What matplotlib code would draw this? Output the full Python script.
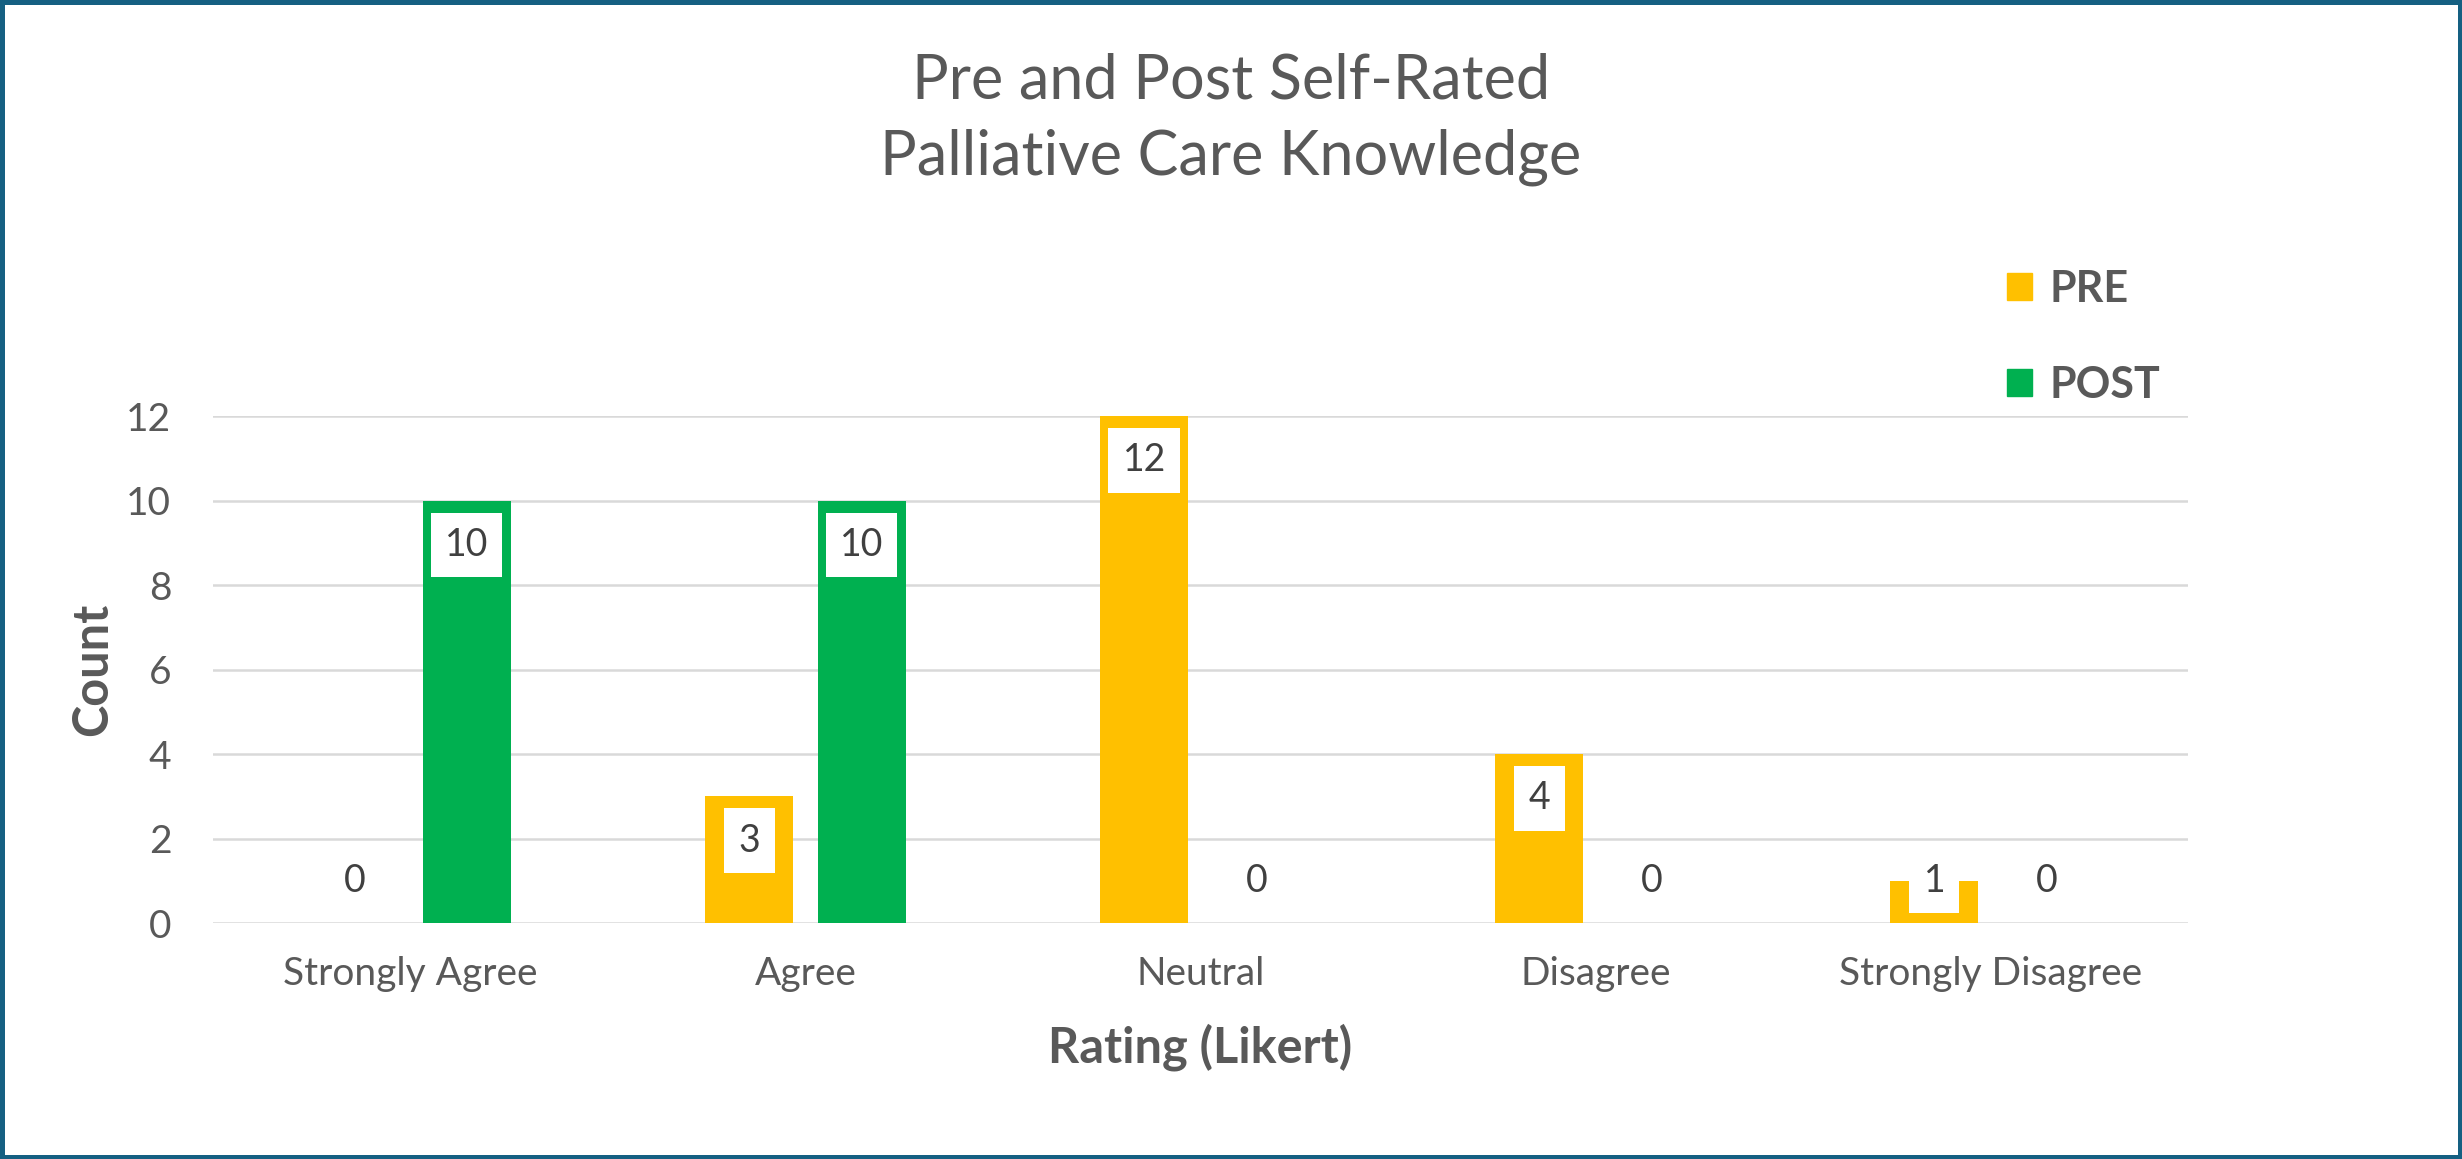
import matplotlib
matplotlib.use("Agg")
import matplotlib.pyplot as plt
import numpy as np
from matplotlib.patches import Patch, Rectangle

# chart data
categories = ["Strongly Agree", "Agree", "Neutral", "Disagree", "Strongly Disagree"]
pre_counts = [0, 3, 12, 4, 1]
post_counts = [10, 10, 0, 0, 0]
series_names = ["PRE", "POST"]
y_ticks = [0, 2, 4, 6, 8, 10, 12]

# colours
PRE_COLOR = "#FFC000"
POST_COLOR = "#00B050"
TEXT_GRAY = "#595959"
LABEL_GRAY = "#404040"
GRID_GRAY = "#D9D9D9"
BORDER_BLUE = "#156082"

plt.rcParams["font.family"] = ["Lato", "DejaVu Sans"]

fig = plt.figure(figsize=(24.62, 11.59), dpi=100)
ax = fig.add_axes([0.0865, 0.2036, 0.8022, 0.4374])

x = np.arange(len(categories))
offset = 0.142
width = 0.223
ax.bar(x - offset, pre_counts, width, color=PRE_COLOR, zorder=2)
ax.bar(x + offset, post_counts, width, color=POST_COLOR, zorder=2)

# data labels, inside end like Excel
for xs, vals in [(x - offset, pre_counts), (x + offset, post_counts)]:
    for xi, v in zip(xs, vals):
        ypos = max(v - 1.05, 1.0)
        ax.text(xi, ypos, str(v), ha="center", va="center", fontsize=27,
                color=LABEL_GRAY, zorder=3,
                bbox=dict(boxstyle="square,pad=0.38", fc="white", ec="none"))

ax.set_xlim(-0.5, len(categories) - 0.5)
ax.set_ylim(0, 12)
ax.set_yticks(y_ticks)
ax.set_xticks(x)
ax.set_xticklabels(categories)
ax.tick_params(axis="both", length=0, labelsize=28, colors=TEXT_GRAY)
ax.tick_params(axis="x", pad=24)
ax.tick_params(axis="y", pad=30)
ax.grid(axis="y", color=GRID_GRAY, linewidth=1.8, zorder=0)
ax.set_axisbelow(True)
for s in ax.spines.values():
    s.set_visible(False)

ax.set_ylabel("Count", fontsize=35, fontweight="bold", color=TEXT_GRAY, labelpad=8)
ax.set_xlabel("Rating (Likert)", fontsize=35, fontweight="bold", color=TEXT_GRAY, labelpad=22)

fig.text(0.5, 0.897, "Pre and Post Self-Rated\nPalliative Care Knowledge",
         ha="center", va="center", fontsize=44, color=TEXT_GRAY, linespacing=1.4)

handles = [Patch(color=PRE_COLOR), Patch(color=POST_COLOR)]
fig.legend(handles, series_names, loc="upper left", bbox_to_anchor=(0.815, 0.768),
           frameon=False, prop={"size": 31, "weight": "bold"}, labelcolor=TEXT_GRAY,
           handlelength=0.6, handleheight=0.6, handletextpad=0.4,
           labelspacing=1.3, borderpad=0, borderaxespad=0)

# dark blue frame round the whole chart
fig.patches.append(Rectangle((0.001, 0.002), 0.998, 0.996, transform=fig.transFigure,
                             fill=False, ec=BORDER_BLUE, lw=3.6))

fig.savefig("out.png", dpi=100)
